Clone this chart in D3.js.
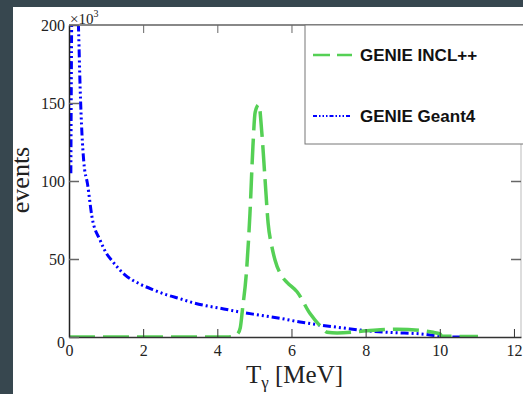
<!DOCTYPE html>
<html><head><meta charset="utf-8">
<script src="https://cdn.jsdelivr.net/npm/d3@7/dist/d3.min.js"></script>
<style>html,body{margin:0;padding:0;background:#37474f;overflow:hidden}</style>
</head><body>
<script>
// Data (energy in MeV, events in thousands)
const xTicks = [0, 2, 4, 6, 8, 10, 12];
const yTicks = [0, 50, 100, 150, 200];
const seriesNames = ["GENIE INCL++", "GENIE Geant4"];
const inclE = [0,1,2,3,4,4.3,4.45,4.55,4.62,4.68,4.78,4.88,4.96,5.02,5.12,5.2,5.29,5.37,5.47,5.56,5.77,5.88,6.15,6.5,6.82,6.96,7.23,8.04,8.85,9.5,9.82,10.0,10.06,10.5,11.03];
const inclN = [0,0,0,0,0,0,0.5,2,6,18,40,79,122,144,149,131,100,73,58,49,38,35,29,15,6,3,2.5,4,5,4.2,3,2,0.5,0.4,0.3];
const g4E = [0.05,0.09,0.2,0.26,0.3,0.35,0.4,0.5,0.62,0.84,1.0,1.19,1.5,1.91,2.3,2.64,3.0,3.34,3.7,4.07,4.61,5.15,5.69,6.23,6.77,7.39,8.04,8.74,9.47,9.92,10.19,10.9];
const g4N = [105,235,235,195,160,130,112,98,77,62,54,48,40,34,30,27,24.5,22,20,18.5,16,14,12,9.6,7.7,5.8,4,2.8,2,0.8,0,0];

const W = 523, H = 394;
const svg = d3.select("body").append("svg").attr("width", W).attr("height", H);
svg.append("rect").attr("x", 13).attr("y", 7).attr("width", W - 13).attr("height", H - 7).attr("fill", "#ffffff");

const x = d3.scaleLinear().domain([0, 12.19]).range([69, 521]);
const y = d3.scaleLinear().domain([0, 200]).range([337, 25]);

svg.append("defs").append("clipPath").attr("id", "clip")
  .append("rect").attr("x", 69).attr("y", 25).attr("width", 452).attr("height", 312);

const serif = "'Liberation Serif','Times New Roman',serif";
const sans = "'Liberation Sans',Arial,sans-serif";

// curves
const line = d3.line().x(d => x(d[0])).y(d => y(d[1])).curve(d3.curveMonotoneX);
const plot = svg.append("g").attr("clip-path", "url(#clip)");
plot.append("path").datum(g4E.map((e, i) => [e, g4N[i]]))
  .attr("d", line).attr("fill", "none").attr("stroke", "#0000ff")
  .attr("stroke-width", 3).attr("stroke-dasharray", "8,3,2,3,2,3,2,3");
plot.append("path").datum(inclE.map((e, i) => [e, inclN[i]]))
  .attr("d", line).attr("fill", "none").attr("stroke", "#55d055")
  .attr("stroke-width", 3.5).attr("stroke-dasharray", "26,8");

// frame: top and right (grey)
svg.append("line").attr("x1", 69).attr("x2", W).attr("y1", 25).attr("y2", 25)
  .attr("stroke", "#888").attr("stroke-width", 2);
svg.append("line").attr("x1", 521).attr("x2", 521).attr("y1", 25).attr("y2", 337)
  .attr("stroke", "#bbb").attr("stroke-width", 1);

// axes
const xAxis = d3.axisBottom(x).tickValues(xTicks).tickSize(-8).tickSizeOuter(0).tickPadding(4);
const gx = svg.append("g").attr("transform", "translate(0,337)").call(xAxis);
gx.select(".domain").attr("stroke", "#333").attr("stroke-width", 1.5);
gx.selectAll(".tick line").attr("stroke", "#333");
gx.selectAll("text").attr("font-family", serif).attr("font-size", 16).attr("fill", "#222").attr("dy", "0.95em");

const xTop = d3.axisTop(x).tickValues(xTicks.slice(1, -1)).tickSize(-8).tickSizeOuter(0).tickFormat("");
const gt = svg.append("g").attr("transform", "translate(0,25)").call(xTop);
gt.select(".domain").remove();
gt.selectAll(".tick line").attr("stroke", "#666");

const yAxis = d3.axisLeft(y).tickValues(yTicks).tickSize(-10).tickSizeOuter(0).tickPadding(4);
const gy = svg.append("g").attr("transform", "translate(69,0)").call(yAxis);
gy.select(".domain").attr("stroke", "#222").attr("stroke-width", 1.5);
gy.selectAll(".tick line").attr("stroke", "#666").attr("stroke-width", 1.5);
gy.selectAll("text").attr("font-family", serif).attr("font-size", 16).attr("fill", "#222");
gy.selectAll(".tick").filter(d => d === 0).select("text").attr("dy", "0.65em");

const yRight = d3.axisRight(y).tickValues(yTicks.slice(1, -1)).tickSize(-10).tickSizeOuter(0).tickFormat("");
const gr = svg.append("g").attr("transform", "translate(521,0)").call(yRight);
gr.select(".domain").remove();
gr.selectAll(".tick line").attr("stroke", "#666").attr("stroke-width", 1.5);

// x10^3
const mult = svg.append("text").attr("x", 70).attr("y", 24).attr("font-family", serif)
  .attr("font-size", 15).attr("fill", "#222");
mult.append("tspan").text("×10");
mult.append("tspan").attr("dy", -7).attr("font-size", 10).text("3");

// axis titles
svg.append("text").attr("transform", "translate(29,180) rotate(-90)").attr("text-anchor", "middle")
  .attr("font-family", serif).attr("font-size", 26).attr("fill", "#222").text("events");
const xt = svg.append("text").attr("x", 246).attr("y", 383).attr("font-family", serif)
  .attr("font-size", 25).attr("fill", "#222");
xt.append("tspan").text("T");
xt.append("tspan").attr("dy", 5).attr("font-size", 17).text("γ");
xt.append("tspan").attr("dy", -5).text(" [MeV]");

// legend
svg.append("rect").attr("x", 305).attr("y", 25).attr("width", 230).attr("height", 119)
  .attr("fill", "#fff").attr("stroke", "#777").attr("stroke-width", 1);
const legColors = ["#55d055", "#0000ff"];
const legDash = ["17,7", "4,2,1.5,2,1.5,2,1.5,2"];
const legW = [2.5, 2];
const legY = [55, 116];
seriesNames.forEach((name, i) => {
  svg.append("line").attr("x1", 313).attr("x2", 352).attr("y1", legY[i]).attr("y2", legY[i])
    .attr("stroke", legColors[i]).attr("stroke-width", legW[i]).attr("stroke-dasharray", legDash[i]);
  svg.append("text").attr("x", 360).attr("y", legY[i] + 6).attr("font-family", sans)
    .attr("font-weight", "bold").attr("font-size", 17).attr("fill", "#111").text(name);
});
</script>
</body></html>
